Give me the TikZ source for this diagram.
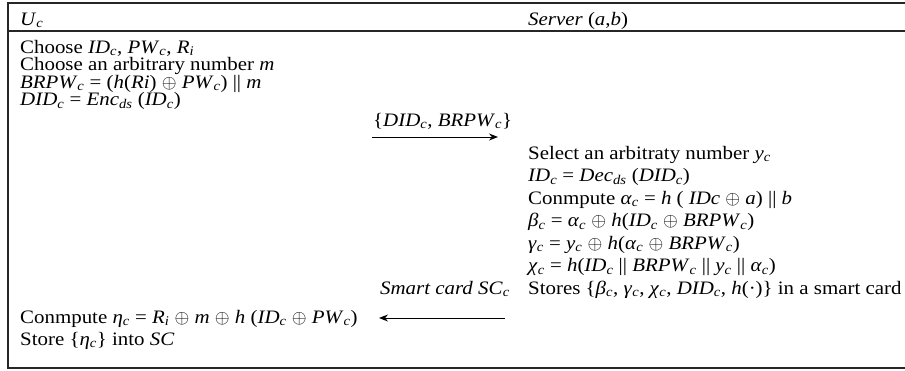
\RequirePackage{fix-cm}
\documentclass[tikz,border=0pt]{standalone}
\usepackage{fontspec}
\setmainfont{Liberation Serif}[FakeStretch=1.1]
\usetikzlibrary{arrows.meta}
\newcommand{\iv}[2]{\textit{#1}\textsubscript{\textit{#2}}}
\newcommand{\xo}{$\oplus$}
\begin{document}
\begin{tikzpicture}[x=1pt,y=-1pt,
  txt/.style={anchor=base west, inner sep=0pt, font=\fontsize{19}{22}\selectfont},
  frame/.style={line width=1.2pt, draw=black!85},
  msg/.style={line width=1pt, -{Stealth[length=9pt,width=7pt]}}]
\useasboundingbox (0,0) rectangle (905,370);
% frame
\draw[frame] (905,3) -- (8,3) -- (8,368) -- (905,368);
\draw[frame] (8,31) -- (905,31);
% headers
\node[txt] (hu) at (20,25) {\iv{U}{c}};
\node[txt] (hs) at (528,25) {\textit{Server} (\textit{a},\textit{b})};
% user block
\node[txt] (u1) at (20,53) {Choose \iv{ID}{c}, \iv{PW}{c}, \iv{R}{i}};
\node[txt] (u2) at (20,70.5) {Choose an arbitrary number \textit{m}};
\node[txt] (u3) at (20,88) {\iv{BRPW}{c} = (\textit{h}(\textit{Ri}) \xo{} \iv{PW}{c}) || \textit{m}};
\node[txt] (u4) at (20,105.5) {\iv{DID}{c} = \iv{Enc}{ds} (\iv{ID}{c})};
% message 1
\node[txt] (m1) at (373,126) {\{\iv{DID}{c}, \iv{BRPW}{c}\}};
\coordinate (a1s) at (372,137);
\coordinate (a1e) at (498,137);
\draw[msg] (a1s) -- (a1e);
% server block
\node[txt] (s1) at (528,159) {Select an arbitraty number \iv{y}{c}};
\node[txt] (s2) at (528,181.5) {\iv{ID}{c} = \iv{Dec}{ds} (\iv{DID}{c})};
\node[txt] (s3) at (528,204) {Conmpute \iv{α}{c} = \textit{h} ( \textit{IDc} \xo{} \textit{a}) || \textit{b}};
\node[txt] (s4) at (528,226.5) {\iv{β}{c} = \iv{α}{c} \xo{} \textit{h}(\iv{ID}{c} \xo{} \iv{BRPW}{c})};
\node[txt] (s5) at (528,249) {\iv{γ}{c} = \iv{y}{c} \xo{} \textit{h}(\iv{α}{c} \xo{} \iv{BRPW}{c})};
\node[txt] (s6) at (528,271.5) {\iv{χ}{c} = \textit{h}(\iv{ID}{c} || \iv{BRPW}{c} || \iv{y}{c} || \iv{α}{c})};
\node[txt] (s7) at (528,294) {Stores \{\iv{β}{c}, \iv{γ}{c}, \iv{χ}{c}, \iv{DID}{c}, \textit{h}(·)\} in a smart card};
% message 2
\node[txt] (m2) at (380,294) {\textit{Smart card} \iv{SC}{c}};
\coordinate (a2s) at (505,318);
\coordinate (a2e) at (379,318);
\draw[msg] (a2s) -- (a2e);
% user final
\node[txt] (u5) at (20,323) {Conmpute \iv{η}{c} = \iv{R}{i} \xo{} \textit{m} \xo{} \textit{h} (\iv{ID}{c} \xo{} \iv{PW}{c})};
\node[txt] (u6) at (20,345) {Store \{\iv{η}{c}\} into \textit{SC}};
\end{tikzpicture}
\end{document}
